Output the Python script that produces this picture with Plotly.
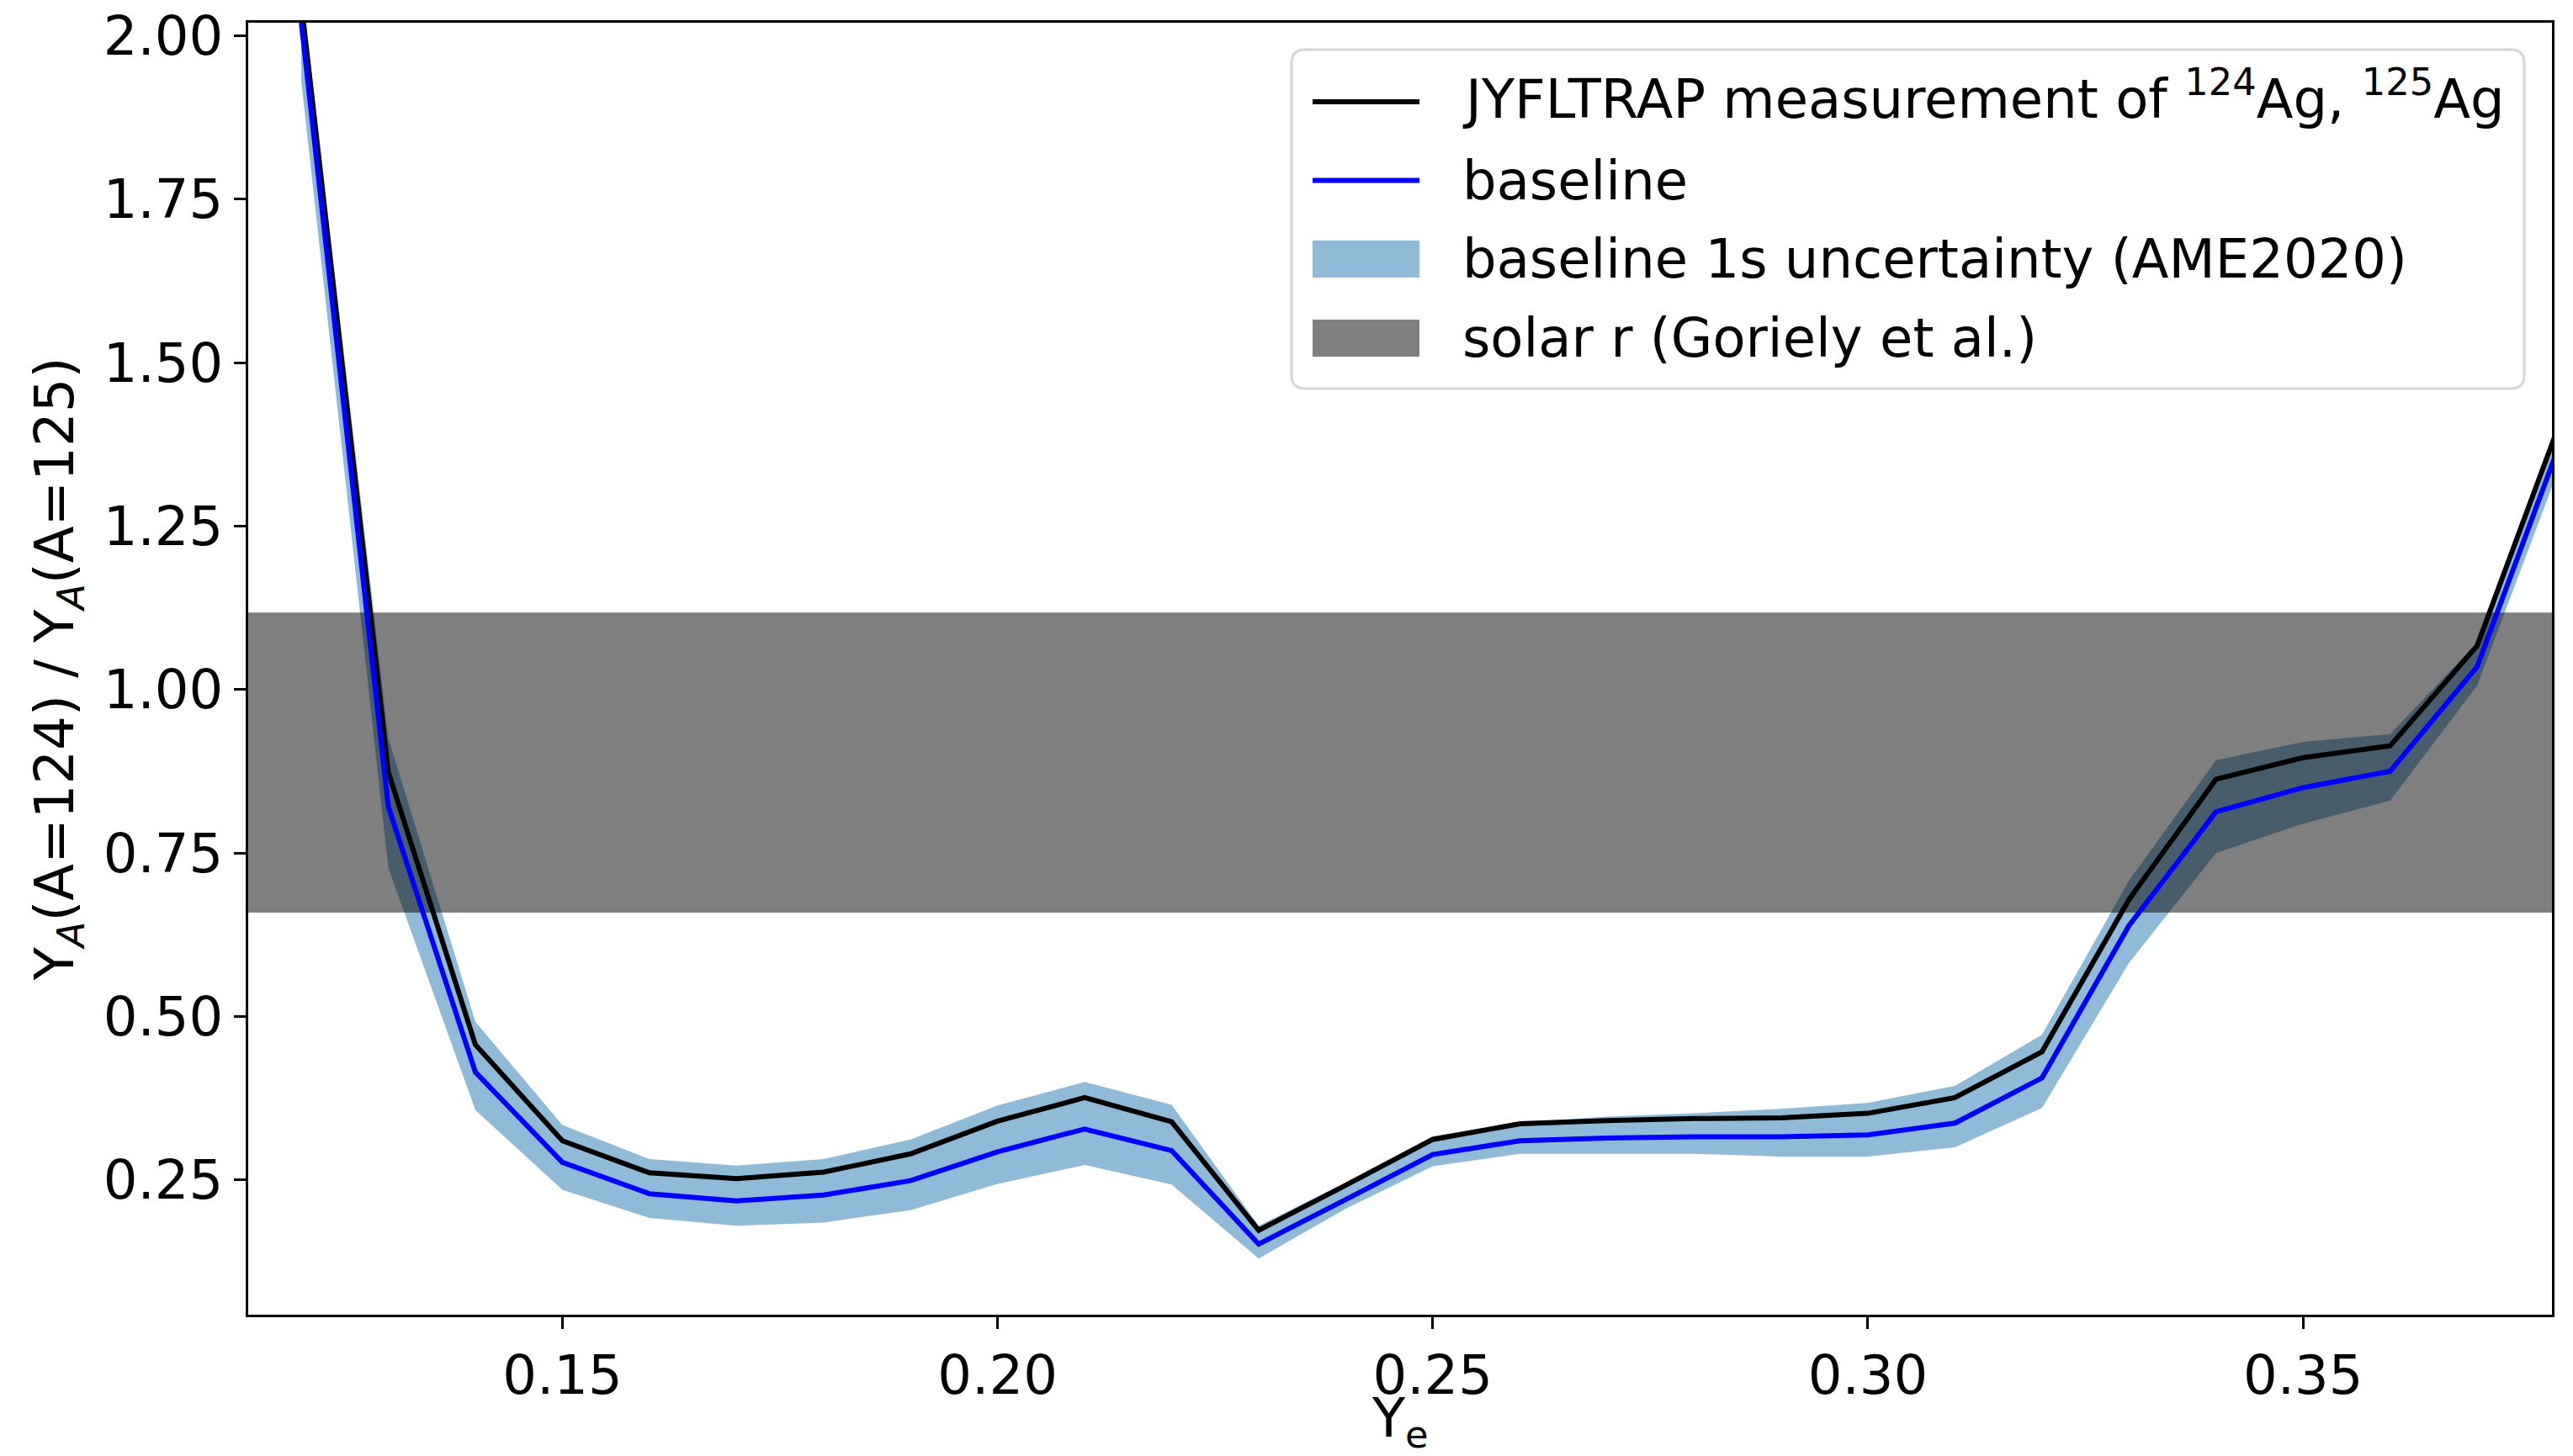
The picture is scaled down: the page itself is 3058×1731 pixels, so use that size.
import plotly.graph_objects as go

# ---- data ----
ye = [0.12, 0.13, 0.14, 0.15, 0.16, 0.17, 0.18, 0.19, 0.20, 0.21, 0.22, 0.23, 0.24,
      0.25, 0.26, 0.27, 0.28, 0.29, 0.30, 0.31, 0.32, 0.33, 0.34, 0.35, 0.36, 0.37, 0.38]

jyfltrap = [2.05, 0.874, 0.457, 0.310, 0.261, 0.252, 0.262, 0.290, 0.340, 0.376, 0.339, 0.173, 0.242,
            0.312, 0.336, 0.341, 0.344, 0.345, 0.352, 0.376, 0.446, 0.679, 0.863, 0.896, 0.914, 1.067, 1.426]

baseline = [2.02, 0.821, 0.415, 0.277, 0.229, 0.218, 0.227, 0.249, 0.293, 0.328, 0.295, 0.152, 0.220,
            0.289, 0.310, 0.314, 0.316, 0.316, 0.319, 0.337, 0.406, 0.639, 0.813, 0.850, 0.875, 1.035, 1.394]

band_low = [1.93, 0.727, 0.357, 0.235, 0.192, 0.180, 0.185, 0.204, 0.244, 0.273, 0.243, 0.130, 0.206,
            0.271, 0.290, 0.290, 0.290, 0.286, 0.286, 0.300, 0.360, 0.582, 0.750, 0.795, 0.830, 1.006, 1.359]

band_high = [2.08, 0.926, 0.492, 0.334, 0.282, 0.272, 0.282, 0.312, 0.364, 0.400, 0.365, 0.180, 0.246,
             0.317, 0.338, 0.347, 0.352, 0.359, 0.368, 0.394, 0.472, 0.708, 0.892, 0.920, 0.932, 1.072, 1.436]

solar_r = [0.659, 1.118]   # solar r-process range (Goriely et al.)

legend_labels = ["JYFLTRAP measurement of <sup>124</sup>Ag, <sup>125</sup>Ag",
                 "baseline",
                 "baseline 1s uncertainty (AME2020)",
                 "solar r (Goriely et al.)"]

x_title = "Y<sub>e</sub>"
y_title = "Y<sub><i>A</i></sub>(A=124) / Y<sub><i>A</i></sub>(A=125)"

x_range = [0.1139, 0.3786]
y_range = [0.044, 2.02]
y_ticks = [0.25, 0.50, 0.75, 1.00, 1.25, 1.50, 1.75, 2.00]
x_ticks = [0.15, 0.20, 0.25, 0.30, 0.35]

FONT = "DejaVu Sans"
FS = 64
W, H = 3058, 1731
ML, MR, MT, MB = 295, 25, 27, 168
PW, PH = W - ML - MR, H - MT - MB

BLACK = "black"
BLUE = "#0000ff"
BAND = "rgba(31,119,180,0.5)"
SOLAR = "rgba(0,0,0,0.5)"

fig = go.Figure()

# uncertainty band
fig.add_trace(go.Scatter(x=ye, y=band_low, mode="lines", line=dict(width=0, color="rgba(0,0,0,0)"),
                         showlegend=False, hoverinfo="skip"))
fig.add_trace(go.Scatter(x=ye, y=band_high, mode="lines", line=dict(width=0, color="rgba(0,0,0,0)"),
                         fill="tonexty", fillcolor=BAND, showlegend=False, name=legend_labels[2]))

# solar r band (axhspan across full width)
sx0, sx1 = x_range[0] - 0.05, x_range[1] + 0.05
fig.add_trace(go.Scatter(x=[sx0, sx1, sx1, sx0, sx0],
                         y=[solar_r[0], solar_r[0], solar_r[1], solar_r[1], solar_r[0]],
                         mode="lines", line=dict(width=0, color="rgba(0,0,0,0)"),
                         fill="toself", fillcolor=SOLAR, showlegend=False, name=legend_labels[3]))

# lines
fig.add_trace(go.Scatter(x=ye, y=jyfltrap, mode="lines", line=dict(color=BLACK, width=6),
                         showlegend=False, name="JYFLTRAP"))
fig.add_trace(go.Scatter(x=ye, y=baseline, mode="lines", line=dict(color=BLUE, width=6),
                         showlegend=False, name="baseline"))

axis_common = dict(showline=True, linecolor="black", linewidth=3, mirror=True,
                   ticks="outside", ticklen=14, tickwidth=3, tickcolor="black",
                   showgrid=False, zeroline=False, automargin=False,
                   tickfont=dict(family=FONT, size=FS, color="black"))

fig.update_xaxes(range=x_range, tickvals=x_ticks, tickformat=".2f", **axis_common)
fig.update_yaxes(range=y_range, tickvals=y_ticks, tickformat=".2f",
                 title=dict(text=y_title, font=dict(family=FONT, size=FS, color="black")),
                 **axis_common)

# ---- helpers for paper coordinates ----
def px(xp):
    return (xp - ML) / PW

def py(yp):
    return (H - MB - yp) / PH

annotations = [dict(xref="paper", yref="paper", x=0.5, y=py(1690), xanchor="center", yanchor="middle",
                    showarrow=False, text=x_title, font=dict(family=FONT, size=FS, color="black"))]

# ---- matplotlib-style legend box ----
bx0, bx1, by0, by1 = 1535, 3000, 59, 462
r = 16
X0, X1, Y0, Y1 = px(bx0), px(bx1), py(by1), py(by0)
rx, ry = r / PW, r / PH
path = (f"M {X0+rx},{Y1} L {X1-rx},{Y1} Q {X1},{Y1} {X1},{Y1-ry} L {X1},{Y0+ry} "
        f"Q {X1},{Y0} {X1-rx},{Y0} L {X0+rx},{Y0} Q {X0},{Y0} {X0},{Y0+ry} "
        f"L {X0},{Y1-ry} Q {X0},{Y1} {X0+rx},{Y1} Z")
shapes = [dict(type="path", xref="paper", yref="paper", path=path, layer="above",
               fillcolor="rgba(255,255,255,0.8)", line=dict(color="#d6d6d6", width=3))]

row_y = [121, 214.5, 308, 402]
text_shift = [-8, 0, 0, 0]
hx0, hx1 = 1560, 1687
handle_styles = [("line", BLACK), ("line", BLUE), ("patch", "#8fbbd9"), ("patch", "#808080")]
for (kind, col), yc, dy, lab in zip(handle_styles, row_y, text_shift, legend_labels):
    if kind == "line":
        shapes.append(dict(type="line", xref="paper", yref="paper", layer="above",
                           x0=px(hx0), x1=px(hx1), y0=py(yc), y1=py(yc),
                           line=dict(color=col, width=6)))
    else:
        shapes.append(dict(type="rect", xref="paper", yref="paper", layer="above",
                           x0=px(hx0), x1=px(hx1), y0=py(yc + 22), y1=py(yc - 22),
                           fillcolor=col, line=dict(width=0)))
    annotations.append(dict(xref="paper", yref="paper", x=px(1736), y=py(yc + dy),
                            xanchor="left", yanchor="middle", showarrow=False, text=lab,
                            font=dict(family=FONT, size=FS, color="black")))

fig.update_layout(
    width=W, height=H,
    margin=dict(l=ML, r=MR, t=MT, b=MB),
    paper_bgcolor="white", plot_bgcolor="white",
    font=dict(family=FONT, color="black"),
    showlegend=False,
    shapes=shapes,
    annotations=annotations,
)

fig.write_html("out.html")
